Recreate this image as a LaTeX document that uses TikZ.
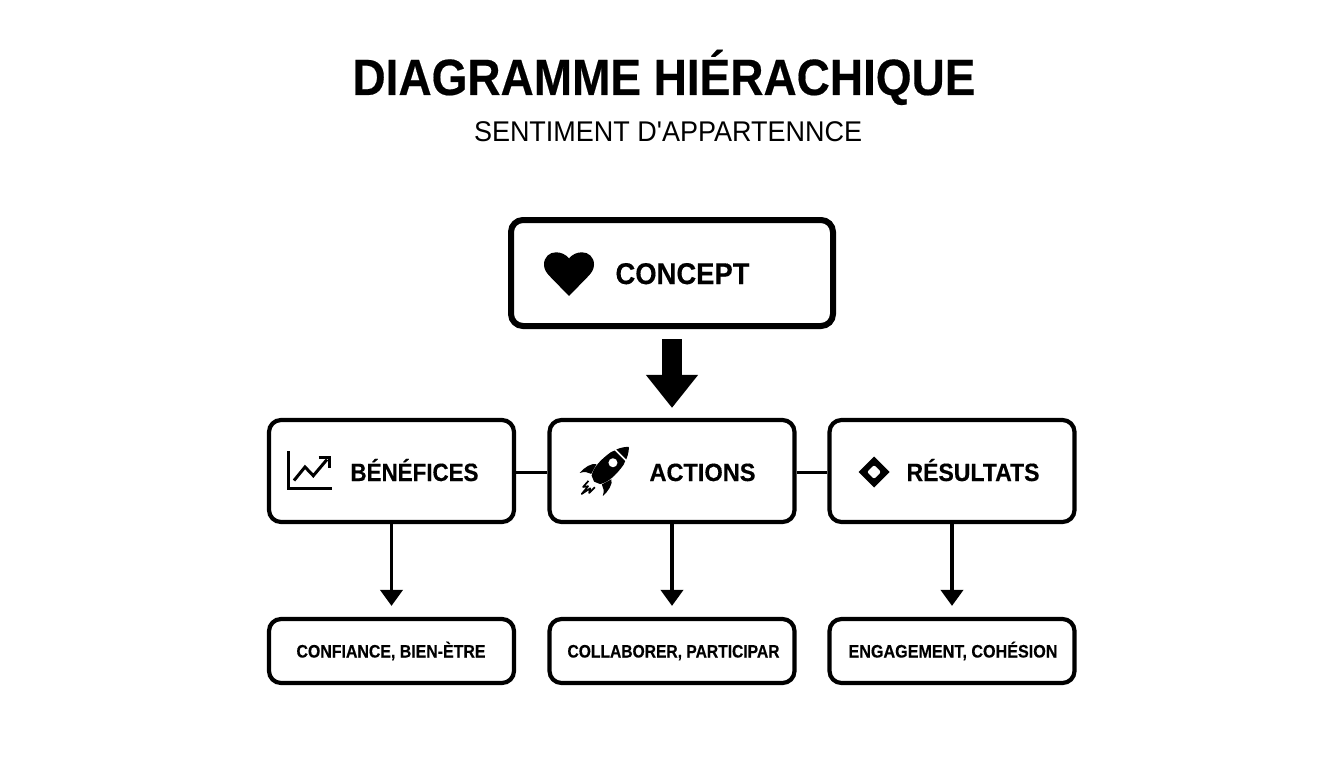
\documentclass[tikz,border=0pt]{standalone}
\usepackage{fontspec}
\usepackage{graphicx}
\setmainfont{Liberation Sans}[BoldFeatures={FakeBold=0.35}]
\newfontfamily\plainfont{Liberation Sans}
\usetikzlibrary{arrows.meta}
\newsavebox{\fitbox}
\newcommand{\fitw}[2]{\sbox{\fitbox}{#2}\pgfmathsetmacro{\fitr}{#1/(\wd\fitbox/1pt)}\scalebox{\fitr}[1]{\usebox{\fitbox}}}
\tikzset{
  box/.style={draw=black,fill=white,rounded corners=12pt,inner sep=0pt,anchor=center},
  topbox/.style={box,line width=6pt,minimum width=322pt,minimum height=106pt},
  midbox/.style={box,line width=4.2pt,minimum width=245pt,minimum height=102pt},
  lowbox/.style={box,line width=4.2pt,minimum width=245pt,minimum height=64pt},
  lbl/.style={inner sep=0pt,anchor=base,text=black},
  link/.style={line width=3.4pt,draw=black},
  flow/.style={line width=3.8pt,draw=black,shorten >=11pt,-{Triangle[width=22pt,length=16pt]}},
  bigflow/.style={line width=20pt,draw=black,shorten <=10pt,shorten >=10pt,-{Triangle[width=50pt,length=33pt]}},
  iconline/.style={line width=3pt,draw=black},
}
\begin{document}
\begin{tikzpicture}[x=1pt,y=-1pt]
\useasboundingbox (0,0) rectangle (1344,768);
\fill[white] (0,0) rectangle (1344,768);
% boxes
\node[topbox] (concept) at (672,273) {};
\node[midbox] (ben) at (391.5,471) {};
\node[midbox] (act) at (672,471) {};
\node[midbox] (res) at (952,471) {};
\node[lowbox] (conf) at (391.5,651) {};
\node[lowbox] (coll) at (672,651) {};
\node[lowbox] (enga) at (952,651) {};
% connectors
\draw[bigflow] (concept.south) -- (act.north);
\draw[link] ([yshift=-1.5pt]ben.east) -- ([yshift=-1.5pt]act.west);
\draw[link] ([yshift=-1.5pt]act.east) -- ([yshift=-1.5pt]res.west);
\draw[flow] (ben.south) -- (conf.north);
\draw[flow] (act.south) -- (coll.north);
\draw[flow] (res.south) -- (enga.north);
% texts
\node[lbl] (title) at (664,95) {\fontsize{51}{51}\selectfont\bfseries\fitw{623}{DIAGRAMME HIÉRACHIQUE}};
\node[lbl] (sub) at (668,141) {\fontsize{28.5}{29}\selectfont\plainfont\fitw{388}{SENTIMENT D'APPARTENNCE}};
\node[lbl] (tconcept) at (682.5,284) {\fontsize{30}{31}\selectfont\bfseries\fitw{134}{CONCEPT}};
\node[lbl] (tben) at (414.5,481) {\fontsize{25}{26}\selectfont\bfseries\fitw{128}{BÉNÉFICES}};
\node[lbl] (tact) at (702.5,481) {\fontsize{25}{26}\selectfont\bfseries\fitw{106}{ACTIONS}};
\node[lbl] (tres) at (973,481) {\fontsize{25}{26}\selectfont\bfseries\fitw{133}{RÉSULTATS}};
\node[lbl] (tconf) at (391,657.5) {\fontsize{18}{18}\selectfont\bfseries\fitw{189}{CONFIANCE, BIEN-ÈTRE}};
\node[lbl] (tcoll) at (673.5,657.5) {\fontsize{18}{18}\selectfont\bfseries\fitw{212}{COLLABORER, PARTICIPAR}};
\node[lbl] (tenga) at (953,657.5) {\fontsize{18}{18}\selectfont\bfseries\fitw{209}{ENGAGEMENT, COHÉSION}};
% heart
\fill[black] (569,296) -- (550.5,277) .. controls (546,272.5) and (544,269) .. (544,264.5)
  .. controls (544,257) and (549.5,252.3) .. (556,252.3)
  .. controls (561,252.3) and (566,254.5) .. (569,258.5)
  .. controls (572,254.5) and (577,252.3) .. (582,252.3)
  .. controls (588.5,252.3) and (594,257) .. (594,264.5)
  .. controls (594,269) and (592,272.5) .. (587.5,277) -- cycle;
% chart icon
\draw[iconline] (288.7,451) -- (288.7,488.7) -- (332,488.7);
\draw[iconline,line join=miter] (294,480.5) -- (305,467) -- (313.3,475.7) -- (327,459.5);
\draw[iconline] (318.5,457.3) -- (329.7,457.3) -- (329.7,467.5);
% rocket
\begin{scope}[shift={(610.7,465)},x={(0.707pt,-0.707pt)},y={(0.707pt,0.707pt)}]
  \fill[black] (0,-23.5) -- (-6,-21) .. controls (-10.5,-14) and (-11,-4) .. (-9,9) -- (-7.5,13) -- (7.5,13) -- (9,9) .. controls (11,-4) and (10.5,-14) .. (6,-21) -- cycle;
  \fill[black] (-7,15) -- (7,15) .. controls (5,20) and (2,24) .. (0,25.5) .. controls (-2,24) and (-5,20) .. (-7,15) -- cycle;
  \fill[white] (0,3.2) circle (4.5);
  \fill[black] (-10.6,-9.5) .. controls (-15,-12) and (-17,-20) .. (-16.3,-27.5) .. controls (-14,-23) and (-11,-21) .. (-7.5,-20) -- cycle;
  \fill[black] (10.6,-9.5) .. controls (15,-12) and (17,-20) .. (16.3,-27.5) .. controls (14,-23) and (11,-21) .. (7.5,-20) -- cycle;
  \draw[line width=1.7pt,black,line join=round] (-4.5,-27) -- (-4,-35) -- (-1,-31) -- (0,-41) -- (2,-31) -- (4.5,-35) -- (4.5,-27);
\end{scope}
% diamond icon
\fill[black] (874,456.5) -- (889.5,472) -- (874,487.5) -- (858.5,472) -- cycle;
\fill[white,rounded corners=2pt] (874,465) -- (881,472) -- (874,479) -- (867,472) -- cycle;
\end{tikzpicture}
\end{document}
